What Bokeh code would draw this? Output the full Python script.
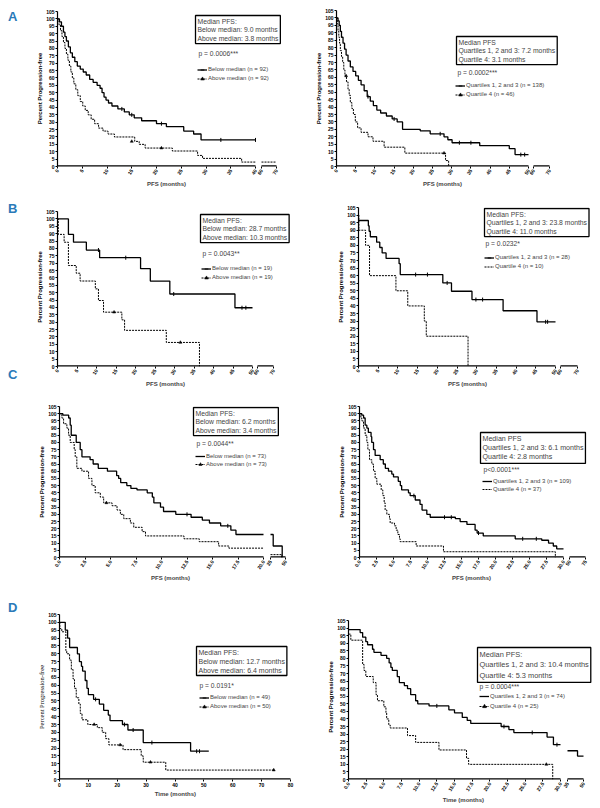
import math
from bokeh.plotting import figure
from bokeh.models import (ColumnDataSource, CustomJSTransform, FixedTicker, Label,
                          Legend, LegendItem, Range1d, Title, Div)
from bokeh.layouts import row, column
from bokeh.transform import transform
from bokeh.embed import file_html
from bokeh.resources import INLINE

# ------------------------------------------------------------------ data
Y_TICKS = [0, 5, 10, 15, 20, 25, 30, 35, 40, 45, 50, 55, 60, 65, 70, 75, 80, 85, 90, 95, 100, 105]

AL_TICKS = [0, 5, 10, 15, 20, 25, 30, 35, 40]
AL_TAIL_TICKS = [60, 70]
B_TICKS = [0, 5, 10, 15, 20, 25, 30, 35, 40, 45, 50]
B_TAIL_TICKS = [60, 70]
CL_TICKS = [0, 2.5, 5, 7.5, 10, 12.5, 15, 17.5, 20]
CL_TAIL_TICKS = [25, 50]
CR_TICKS = [0, 2.5, 5, 7.5, 10, 12.5, 15, 17.5, 20, 22.5, 25, 27.5, 30]
CR_TAIL_TICKS = [50, 75]
DL_TICKS = [0, 10, 20, 30, 40, 50, 60, 70, 80]
DR_TAIL_TICKS = [35, 50]

# Panel A, left
AL_below_t = [0, 0.4, 0.8, 1.2, 1.5, 1.8, 2.2, 2.6, 3.0, 3.5, 4.0, 4.6, 5.2, 5.8, 6.5, 7.2, 8.0, 8.6, 9.0, 9.4,
              9.8, 10.3, 11.0, 12.2, 13.5, 14.5, 15.5, 17.0, 20.0, 22.0, 25.5, 27.5, 29.0, 40.0]
AL_below_v = [100, 98, 95, 91, 88, 85, 81, 77, 74, 71, 68, 66, 64, 62, 59, 57, 55, 53, 50, 47,
              45, 43, 41, 39, 37, 35, 33, 31, 29, 27, 24, 22, 18, 18]
AL_below_ct = [13.0, 15.0, 21.0, 33.0, 40.0]
AL_below_cv = [39, 35, 29, 18, 18]
AL_above_t = [0, 0.3, 0.6, 0.9, 1.2, 1.5, 1.8, 2.1, 2.4, 2.7, 3.0, 3.3, 3.7, 4.1, 4.6, 5.1, 5.6, 6.2, 6.8, 7.5,
              8.3, 9.2, 10.2, 11.5, 15.6, 16.5, 17.7, 23.2, 28.3, 29.3, 37.2, 40.0]
AL_above_v = [100, 96, 92, 88, 84, 80, 76, 72, 68, 64, 60, 56, 52, 48, 44, 41, 38, 35, 32, 29,
              26, 24, 22, 20, 17, 15, 12.5, 10.5, 7.5, 5.5, 3, 3]
AL_above_ct = [15.0, 21.0]
AL_above_cv = [17, 12.5]
AL_above_tail_t = [60, 70]
AL_above_tail_v = [3, 3]

# Panel A, right
AR_q123_t = [0, 0.4, 0.7, 1.0, 1.3, 1.7, 2.1, 2.5, 3.0, 3.6, 4.3, 5.0, 5.7, 6.4, 7.2, 8.0, 8.8, 9.6, 10.5, 11.5,
             13.0, 14.5, 15.8, 17.2, 21.8, 24.4, 28.0, 29.0, 30.1, 37.3, 45.0, 46.5, 50.0]
AR_q123_v = [100, 98, 95, 91, 87, 83, 79, 75, 71, 67, 64, 61, 58, 55, 51, 47, 44, 41, 38, 36,
             34, 32, 30, 25, 24, 22, 20, 18, 16, 14, 12, 8, 8]
AR_q123_ct = [8.2, 15.0, 27.0, 32.0, 35.0, 48.0, 49.0]
AR_q123_cv = [47, 32, 22, 16, 16, 8, 8]
AR_q4_t = [0, 0.2, 0.4, 0.6, 0.8, 1.0, 1.3, 1.6, 1.9, 2.2, 2.6, 3.0, 3.3, 3.6, 4.0, 4.4, 4.9, 5.5, 6.4, 8.2,
           9.5, 12.4, 17.8, 28.4, 29.2]
AR_q4_v = [100, 96, 91, 87, 83, 78, 74, 70, 65, 61, 57, 52, 48, 43, 39, 35, 30, 26, 23, 20,
           17, 13, 9, 4, 0]
AR_q4_ct = [2.5, 28.0]
AR_q4_cv = [61, 9]

# Panel B, left
BL_below_t = [0, 2.8, 4.1, 7.4, 10.8, 21.3, 23.8, 28.8, 45.5, 50.0]
BL_below_v = [100, 89.5, 84.2, 78.9, 73.7, 66.3, 57.9, 49.1, 39.8, 39.8]
BL_below_ct = [10.5, 17.5, 29.8, 47.3, 48.3]
BL_below_cv = [78.9, 73.7, 49.1, 39.8, 39.8]
BL_above_t = [0, 0.2, 1.7, 2.8, 4.8, 5.8, 9.7, 10.5, 11.8, 16.5, 17.2, 27.9, 36.4]
BL_above_v = [100, 89.5, 84.2, 68.4, 63.2, 57.9, 52.6, 44.7, 36.8, 31.6, 24.5, 16.3, 0]
BL_above_ct = [14.5, 31.5]
BL_above_cv = [36.8, 16.3]

# Panel B, right
BR_q123_t = [0, 2.5, 2.7, 3.0, 4.6, 5.4, 6.0, 7.0, 10.3, 10.6, 21.4, 23.6, 28.8, 36.7, 45.3, 50.0]
BR_q123_v = [96.4, 92.9, 89.3, 85.7, 82.1, 78.6, 75.0, 71.4, 67.9, 60.7, 55.2, 49.7, 44.2, 36.8, 29.5, 29.5]
BR_q123_ct = [14.5, 17.5, 22.5, 29.8, 31.5, 47.5, 48.0]
BR_q123_cv = [60.7, 60.7, 55.2, 44.2, 44.2, 29.5, 29.5]
BR_q4_t = [0, 0.1, 1.8, 2.8, 9.5, 12.5, 16.7, 17.2, 27.8]
BR_q4_v = [100, 90, 80, 60, 50, 40, 30, 20, 0]
BR_q4_ct = []
BR_q4_cv = []

# Panel C, left
CL_below_t = [0, 0.33, 0.9, 1.05, 1.15, 1.64, 2.03, 2.2, 3.0, 3.3, 3.8, 4.7, 5.6, 5.8, 6.0, 6.6, 7.0, 7.6, 8.6, 9.1,
              9.25, 9.9, 10.2, 11.4, 12.9, 14.0, 14.7, 15.8, 16.8, 17.3, 20.0]
CL_below_v = [100, 99, 97, 92, 85, 80, 75, 70, 68, 65, 62, 60, 57, 55, 52, 50, 48, 47, 45, 42,
              38, 35, 32, 30, 28, 26, 24, 22, 19, 16, 16]
CL_below_ct = [12.5, 16.5]
CL_below_cv = [30, 22]
CL_below_tail_t = [25, 29.5, 44.5]
CL_below_tail_v = [16, 8, 0]
CL_above_t = [0, 0.23, 0.4, 0.72, 0.89, 1.05, 1.44, 1.54, 1.7, 2.2, 2.85, 3.18, 3.5, 4.0, 4.33, 5.15, 5.64, 5.97, 6.3, 6.95,
              7.28, 8.1, 8.43, 12.2, 13.7, 15.6, 16.6, 20.0]
CL_above_v = [100, 97, 93, 90, 85, 80, 75, 70, 62, 60, 55, 50, 45, 42, 38, 36, 33, 30, 27, 24,
              21, 18, 15, 13, 11, 8, 6.5, 6.5]
CL_above_ct = [4.6]
CL_above_cv = [38]
CL_above_tail_t = [25, 43.5]
CL_above_tail_v = [2, 0]

# Panel C, right
CR_q123_t = [0, 0.34, 0.6, 0.83, 1.08, 1.3, 1.7, 1.8, 2.06, 2.3, 3.04, 3.5, 3.8, 4.26, 4.75, 5.0, 5.7, 6.0, 6.2, 7.2,
             7.45, 8.2, 8.9, 9.2, 9.9, 10.4, 14.1, 14.8, 15.8, 17.0, 17.3, 18.2, 22.9, 26.8, 27.8, 28.5, 29.0, 30.0]
CR_q123_v = [100, 99, 97, 92, 90, 87, 84, 80, 75, 71, 68, 65, 62, 60, 58, 56, 53, 50, 47, 45,
             43, 40, 37, 33, 30, 28, 27, 25, 23, 19, 17, 15, 13, 12, 10, 8, 6, 6]
CR_q123_ct = [8.0, 12.5, 13.5, 17.5, 24.0, 26.0]
CR_q123_cv = [43, 28, 28, 17, 13, 13]
CR_q4_t = [0, 0.2, 0.34, 0.59, 0.83, 1.08, 1.23, 1.47, 1.81, 2.06, 2.3, 2.55, 3.19, 3.43, 3.63, 3.77, 4.02, 4.41, 4.51, 5.15,
           5.39, 5.64, 5.88, 5.98, 8.33, 12.35, 28.8]
CR_q4_v = [100, 97, 95, 90, 85, 80, 75, 68, 65, 60, 55, 51, 47, 43, 38, 33, 30, 27, 24, 22,
           19, 16, 13, 11, 8, 4, 0]
CR_q4_ct = []
CR_q4_cv = []

# Panel D, left
DL_below_t = [0, 2.0, 2.8, 3.5, 6.2, 6.9, 7.6, 8.0, 8.9, 9.5, 10.0, 11.8, 13.8, 15.3, 16.9, 17.5, 21.8, 23.7, 29.0,
              45.4, 51.7]
DL_below_v = [100, 95, 90, 84, 80, 75, 72, 69, 63, 58, 54, 51, 48, 44, 41, 37.5, 35, 31.5, 23.5, 18, 18]
DL_below_ct = [12.5, 22.5, 25.5, 32.0, 47.5, 48.5]
DL_below_cv = [51, 35, 31.5, 23.5, 18, 18]
DL_above_t = [0, 0.1, 0.8, 2.2, 2.5, 3.5, 4.1, 4.7, 5.2, 5.8, 6.7, 7.2, 7.8, 9.8, 13.1, 14.8, 16.0, 17.1, 22.0,
              28.3, 29.0, 36.8, 74.2]
DL_above_v = [100, 96, 94, 82, 80, 76, 70, 64, 58, 52, 48, 42, 38, 35, 33, 30, 26, 22, 19, 15, 11, 6, 6]
DL_above_ct = [12.0, 21.0, 31.5, 74.2]
DL_above_cv = [35, 22, 11, 6]

# Panel D, right
DR_q123_t = [0, 1.65, 2.0, 2.45, 2.7, 3.4, 3.6, 4.6, 5.4, 5.75, 6.0, 6.2, 6.9, 7.2, 7.9, 8.35, 8.8, 9.5, 9.8, 11.4,
             14.2, 15.0, 16.1, 16.8, 17.3, 21.6, 22.7, 23.4, 28.1, 29.0, 30.0]
DR_q123_v = [99, 97, 94, 91, 89, 86, 84, 82, 80, 77, 74, 72, 68, 64, 62, 60, 56, 52, 50, 48.6,
             46, 44, 41, 39, 37, 35, 33, 31, 28, 23, 23]
DR_q123_ct = [12.5, 22.0, 26.0, 29.5]
DR_q123_cv = [48.6, 35, 31, 23]
DR_q123_tail_t = [35, 44.4, 50]
DR_q123_tail_v = [19, 15.5, 15.5]
DR_q4_t = [0, 0.33, 2.0, 2.2, 2.45, 3.5, 3.9, 4.1, 5.0, 5.3, 5.4, 5.7, 5.9, 8.35, 9.5, 12.8, 16.7, 17.0, 28.9]
DR_q4_v = [96, 92, 76, 72, 68, 64, 56, 52, 48, 44, 40, 36, 34, 29, 24.5, 19.5, 14, 10, 0]
DR_q4_ct = [28.0]
DR_q4_cv = [10]

PANEL_LETTERS = [["A"], ["B", "C"], [], ["D"]]

# ------------------------------------------------------------------ layout
ROW_TOP = [0, 200, 400, 600]
ROW_H = [200, 200, 200, 206]
ROW_BOTTOM = [166, 366, 557, 779]   # shared x-axis line of the two plots in each row
LETTER_W = 20
COL_X = [LETTER_W, 300]
COL_W = [280, 299]
FONT = "Liberation Sans"
LETTER_COLOR = "#2a7ab9"
LETTER_TOP = {"A": 10, "B": 202, "C": 368, "D": 598}

BREAK_V = """
const out = new Array(xs.length);
for (let i = 0; i < xs.length; i++) {
  const x = xs[i];
  out[i] = x <= b1 ? x : b1 + g + (x - b2) * k;
}
return out;
"""
BREAK_1 = "return x <= b1 ? x : b1 + g + (x - b2) * k;"


def curve(t, v, ct, cv, dashed, label, tail_t=None, tail_v=None):
    return dict(t=t, v=v, ct=ct, cv=cv, dashed=dashed, label=label, tail_t=tail_t, tail_v=tail_v)


PANELS = [
    dict(col=0, row=0, L=57, T=11, P1=255, P2=261, P3=276,
         ticks=AL_TICKS, tail=AL_TAIL_TICKS, dec=False, xtitle="PFS (months)", xt_c=166,
         box="Median PFS:\nBelow median: 9.0 months\nAbove median: 3.8 months", box_xy=(195, 15),
         box_font=6.8, box_lh=8.3,
         pval="p = 0.0006***", p_xy=(198, 53), leg_x=197, leg_y=(69, 78),
         curves=[curve(AL_below_t, AL_below_v, AL_below_ct, AL_below_cv, False, "Below median (n = 92)"),
                 curve(AL_above_t, AL_above_v, AL_above_ct, AL_above_cv, True, "Above median (n = 92)",
                       AL_above_tail_t, AL_above_tail_v)]),
    dict(col=1, row=0, L=336, T=10, P1=528, P2=533, P3=549,
         ticks=B_TICKS, tail=B_TAIL_TICKS, dec=False, xtitle="PFS (months)", xt_c=442,
         box="Median PFS\nQuartiles 1, 2 and 3: 7.2 months\nQuartile 4: 3.1 months", box_xy=(456, 36),
         box_font=6.8, box_lh=8.3,
         pval="p = 0.0002***", p_xy=(457, 72), leg_x=455, leg_y=(85, 94),
         curves=[curve(AR_q123_t, AR_q123_v, AR_q123_ct, AR_q123_cv, False, "Quartiles 1, 2 and 3 (n = 138)"),
                 curve(AR_q4_t, AR_q4_v, AR_q4_ct, AR_q4_cv, True, "Quartile 4 (n = 46)")]),
    dict(col=0, row=1, L=57, T=211, P1=252, P2=257, P3=273,
         ticks=B_TICKS, tail=B_TAIL_TICKS, dec=False, xtitle="PFS (months)", xt_c=165,
         box="Median PFS:\nBelow median: 28.7 months\nAbove median: 10.3 months", box_xy=(200, 214),
         box_font=6.8, box_lh=8.3,
         pval="p = 0.0043**", p_xy=(202, 253), leg_x=201, leg_y=(268, 277),
         curves=[curve(BL_below_t, BL_below_v, BL_below_ct, BL_below_cv, False, "Below median (n = 19)"),
                 curve(BL_above_t, BL_above_v, BL_above_ct, BL_above_cv, True, "Above median (n = 19)")]),
    dict(col=1, row=1, L=358, T=207, P1=555, P2=560, P3=577,
         ticks=B_TICKS, tail=B_TAIL_TICKS, dec=False, xtitle="PFS (months)", xt_c=467,
         box="Median PFS:\nQuartiles 1, 2 and 3: 23.8 months\nQuartile 4: 11.0 months", box_xy=(484, 208),
         box_font=6.8, box_lh=8.3,
         pval="p = 0.0232*", p_xy=(485, 243), leg_x=484, leg_y=(257, 266),
         curves=[curve(BR_q123_t, BR_q123_v, BR_q123_ct, BR_q123_cv, False, "Quartiles 1, 2 and 3 (n = 28)"),
                 curve(BR_q4_t, BR_q4_v, BR_q4_ct, BR_q4_cv, True, "Quartile 4 (n = 10)")]),
    dict(col=0, row=2, L=59, T=406, P1=263, P2=270, P3=285,
         ticks=CL_TICKS, tail=CL_TAIL_TICKS, dec=True, xtitle="PFS (months)", xt_c=170,
         box="Median PFS:\nBelow median: 6.2 months\nAbove median: 3.4 months", box_xy=(193, 407),
         box_font=6.8, box_lh=8.3,
         pval="p = 0.0044**", p_xy=(196, 443), leg_x=195, leg_y=(456, 464),
         curves=[curve(CL_below_t, CL_below_v, CL_below_ct, CL_below_cv, False, "Below median (n = 73)",
                       CL_below_tail_t, CL_below_tail_v),
                 curve(CL_above_t, CL_above_v, CL_above_ct, CL_above_cv, True, "Above median (n = 73)",
                       CL_above_tail_t, CL_above_tail_v)]),
    dict(col=1, row=2, L=359, T=406, P1=563, P2=569, P3=585,
         ticks=CR_TICKS, tail=CR_TAIL_TICKS, dec=True, xtitle="PFS (months)", xt_c=471,
         box="Median PFS\nQuartiles 1, 2 and 3: 6.1 months\nQuartile 4: 2.8 months", box_xy=(480, 432),
         box_font=7.1, box_lh=8.4,
         pval="p<0.0001***", p_xy=(483, 469), leg_x=482, leg_y=(481, 489),
         curves=[curve(CR_q123_t, CR_q123_v, CR_q123_ct, CR_q123_cv, False, "Quartiles 1, 2 and 3 (n = 109)"),
                 curve(CR_q4_t, CR_q4_v, CR_q4_ct, CR_q4_cv, True, "Quartile 4 (n = 37)")]),
    dict(col=0, row=3, L=59, T=614, P1=290, P2=None, P3=None,
         ticks=DL_TICKS, tail=None, dec=False, xtitle="Time (months)", xt_c=175, serif_y=True,
         box="Median PFS:\nBelow median: 12.7 months\nAbove median: 6.4 months", box_xy=(196, 646),
         box_font=7.0, box_lh=9.0,
         pval="p = 0.0191*", p_xy=(199, 685), leg_x=199, leg_y=(697, 706),
         curves=[curve(DL_below_t, DL_below_v, DL_below_ct, DL_below_cv, False, "Below median (n = 49)"),
                 curve(DL_above_t, DL_above_v, DL_above_ct, DL_above_cv, True, "Above median (n = 50)")]),
    dict(col=1, row=3, L=348, T=620, P1=560, P2=567, P3=583,
         ticks=CR_TICKS, tail=DR_TAIL_TICKS, dec=True, xtitle="Time (months)", xt_c=463,
         box="Median PFS:\nQuartiles 1, 2 and 3: 10.4 months\nQuartile 4: 5.3 months", box_xy=(477, 647),
         box_font=7.4, box_lh=9.0,
         pval="p = 0.0004***", p_xy=(479, 686), leg_x=479, leg_y=(696, 706),
         curves=[curve(DR_q123_t, DR_q123_v, DR_q123_ct, DR_q123_cv, False, "Quartiles 1, 2 and 3 (n = 74)",
                       DR_q123_tail_t, DR_q123_tail_v),
                 curve(DR_q4_t, DR_q4_v, DR_q4_ct, DR_q4_cv, True, "Quartile 4 (n = 25)")]),
]

# plots in one row share their frame's top edge: use the higher one, extend the y range
ROW_FRAME_TOP = {}
for sp in PANELS:
    ROW_FRAME_TOP[sp["row"]] = min(ROW_FRAME_TOP.get(sp["row"], 10 ** 6), sp["T"])

# approximate em-widths of the x titles (bold Liberation Sans) used to place them
TITLE_EM = {"PFS (months)": 6.5, "Time (months)": 6.9}
TITLE_PX = 6


def build(spec):
    ox = COL_X[spec["col"]]
    fw = COL_W[spec["col"]]
    oy = ROW_TOP[spec["row"]]
    fh = ROW_H[spec["row"]]
    FT = ROW_FRAME_TOP[spec["row"]]
    B = ROW_BOTTOM[spec["row"]]
    L, T, P1 = spec["L"], spec["T"], spec["P1"]
    ticks = spec["ticks"]
    b1 = ticks[-1]
    s = (P1 - L) / b1
    tail = spec["tail"]
    if tail:
        P2, P3 = spec["P2"], spec["P3"]
        b2, te = tail[0], tail[-1]
        g = (P2 - P1) / s
        k = (P3 - P2) / s / (te - b2)
    else:
        b2, g, k = b1, 0.0, 1.0
    right_px = ox + fw - 1
    x_end = (right_px - L) / s
    pp = (B - T) / 105.0
    y1 = 105 + (T - FT) / pp

    def disp(x):
        return x if x <= b1 else b1 + g + (x - b2) * k

    def xd(px):
        return (px - L) / s

    def yd(py):
        return (B - py) / pp

    brk = CustomJSTransform(args=dict(b1=b1, b2=b2, g=g, k=k), func=BREAK_1, v_func=BREAK_V)

    p = figure(width=fw, height=fh, x_range=Range1d(0, x_end), y_range=Range1d(0, y1),
               output_backend="svg", toolbar_location=None, title=None,
               min_border_left=L - ox, min_border_right=1,
               min_border_top=FT - oy, min_border_bottom=oy + fh - B)
    p.outline_line_color = None
    p.xgrid.visible = False
    p.ygrid.visible = False

    # axes
    pos = [float(disp(t)) for t in ticks] + ([float(disp(t)) for t in tail] if tail else [])
    labs = [(f"{t:.1f}" if spec["dec"] else f"{t:g}") for t in ticks] + ([f"{t:g}" for t in tail] if tail else [])
    p.xaxis.ticker = FixedTicker(ticks=pos)
    p.xaxis.major_label_overrides = {q: ll for q, ll in zip(pos, labs)}
    p.yaxis.ticker = FixedTicker(ticks=Y_TICKS)
    p.yaxis.bounds = (0, 105)
    for ax in (p.xaxis[0], p.yaxis[0]):
        ax.major_label_text_font = FONT
        ax.major_label_text_font_style = "bold"
        ax.major_label_text_font_size = "5px"
        ax.major_label_standoff = 1
        ax.major_tick_out = 2
        ax.major_tick_in = 0
        ax.minor_tick_line_color = None
        ax.axis_line_width = 1.2
        ax.axis_label_text_font = FONT
        ax.axis_label_text_font_style = "bold"
        ax.axis_label_text_font_size = "6px"
        ax.axis_label_text_color = "black"
        ax.major_label_text_color = "black"
    p.yaxis.axis_label = "Percent Progression-free"
    p.yaxis.axis_label_standoff = 0
    if spec.get("serif_y"):
        p.yaxis.axis_label_text_font = "Liberation Serif"
        p.yaxis.axis_label_text_font_style = "normal"
        p.yaxis.axis_label_text_font_size = "6.5px"
    p.xaxis.major_label_orientation = 1.0 if (spec["dec"] or tail) else "horizontal"
    p.xaxis.axis_line_color = None

    # x axis title placed under the axis proper (the frame extends further right)
    half = TITLE_EM[spec["xtitle"]] * TITLE_PX / 2.0
    p.add_layout(Title(text=spec["xtitle"], align="left", offset=spec["xt_c"] - half - L,
                       text_font=FONT, text_font_style="bold", text_font_size="6px",
                       vertical_align="top", standoff=2), "below")

    # axis line pieces (with the break gap); half of the line lies outside the frame
    seg_x0 = [ticks[0]] + ([tail[0]] if tail else [])
    seg_x1 = [ticks[-1]] + ([tail[-1]] if tail else [])
    axsrc = ColumnDataSource(dict(x0=seg_x0, x1=seg_x1, y=[0] * len(seg_x0)))
    p.segment(x0=transform("x0", brk), y0="y", x1=transform("x1", brk), y1="y",
              source=axsrc, line_color="black", line_width=2.4)

    # curves
    items = []
    for c in spec["curves"]:
        dash = "2 1" if c["dashed"] else "solid"
        lw = 1.0 if c["dashed"] else 1.3
        src = ColumnDataSource(dict(t=c["t"], v=c["v"]))
        r = p.step(x=transform("t", brk), y="v", source=src, mode="after",
                   line_color="black", line_width=lw, line_dash=dash)
        if c["tail_t"]:
            tsrc = ColumnDataSource(dict(t=c["tail_t"], v=c["tail_v"]))
            p.step(x=transform("t", brk), y="v", source=tsrc, mode="after",
                   line_color="black", line_width=lw, line_dash=dash)
        csrc = ColumnDataSource(dict(t=c["ct"], v=c["cv"]))
        if c["dashed"]:
            m = p.scatter(x=transform("t", brk), y="v", source=csrc, marker="triangle", size=3,
                          fill_color="black", line_color="black", line_width=0.5)
        else:
            m = p.scatter(x=transform("t", brk), y="v", source=csrc, marker="dash", angle=math.pi / 2,
                          size=4, line_color="black", line_width=1)
        items.append(LegendItem(label=c["label"], renderers=[r, m]))

    c1, c2 = spec["leg_y"]
    h = c2 - c1
    leg = Legend(items=items, location=(spec["leg_x"] - L, B - (c2 + h / 2.0)),
                 glyph_width=10, glyph_height=h, label_height=h, spacing=0, padding=0, margin=0,
                 label_standoff=1, label_text_font=FONT, label_text_font_size="6px",
                 background_fill_alpha=0, border_line_alpha=0)
    p.add_layout(leg)

    bx, by = spec["box_xy"]
    fs = spec["box_font"]
    p.add_layout(Label(x=xd(bx), y=yd(by), text=spec["box"], anchor="top_left",
                       text_font=FONT, text_font_size=f"{fs}px", text_line_height=spec["box_lh"] / fs,
                       padding=2, border_line_color="black", border_line_width=1.3,
                       background_fill_color="white"))
    px_, py_ = spec["p_xy"]
    p.add_layout(Label(x=xd(px_), y=yd(py_), text=spec["pval"], text_baseline="middle",
                       text_align="left", text_font=FONT, text_font_size="6.7px"))
    return p


def letter_div(r):
    oy = ROW_TOP[r]
    fh = ROW_H[r]
    html = ""
    cur = 0
    for ch in PANEL_LETTERS[r]:
        top = LETTER_TOP[ch] - oy
        html += (f'<div style="margin:{top - cur}px 0 0 8px;height:13px;line-height:13px;'
                 f'font-family:\'Liberation Sans\';font-weight:bold;font-size:13px;'
                 f'color:{LETTER_COLOR};">{ch}</div>')
        cur = top + 13
    return Div(text=html, width=LETTER_W, height=fh, margin=0,
               styles={"overflow": "visible"})


figs = [build(sp) for sp in PANELS]
rows = [row(letter_div(i), figs[2 * i], figs[2 * i + 1]) for i in range(4)]
layout = column(*rows)

with open("out.html", "w") as f:
    f.write(file_html(layout, INLINE))
